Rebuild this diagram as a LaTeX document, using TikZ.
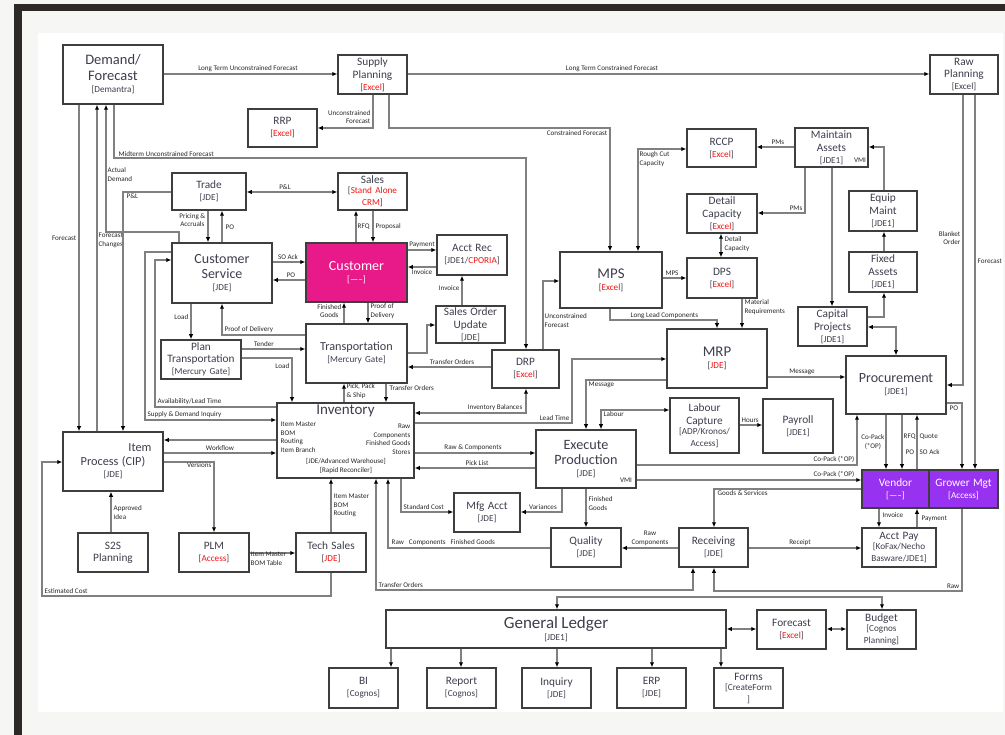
\documentclass[tikz,border=0pt]{standalone}
\usepackage{fontspec}
\setmainfont{Carlito}
\usetikzlibrary{arrows.meta}
\setlength\parindent{0pt}
\definecolor{boxc}{RGB}{62,62,62}
\definecolor{linec}{RGB}{128,128,128}
\definecolor{txtc}{RGB}{62,62,78}
\definecolor{lblc}{RGB}{40,40,40}
\definecolor{exred}{RGB}{240,20,20}
\definecolor{custpink}{RGB}{232,25,137}
\definecolor{vendpurple}{RGB}{150,50,240}
\definecolor{pagebg}{RGB}{246,246,244}
\definecolor{framec}{RGB}{45,41,38}
\newcommand\tA{\fontsize{11.3}{12.6}\selectfont}
\newcommand\tB{\fontsize{14.3}{15.6}\selectfont}
\newcommand\tC{\fontsize{12.2}{13.4}\selectfont}
\newcommand\sbt{\fontsize{9.2}{10}\selectfont}
\newcommand\lbf{\fontsize{7.1}{8.8}\selectfont}
\newcommand\rd[1]{\textcolor{exred}{#1}}
\newcommand\bx[7][]{\pgfmathsetmacro\bxw{(#5)-(#3)-4}\node[box,minimum width={(#5)-(#3)},minimum height={(#6)-(#4)},text width=\bxw pt,#1] (#2) at ({((#3)+(#5))/2},{((#4)+(#6))/2}) {#7};}
\tikzset{
 box/.style={draw=boxc, line width=1.5pt, fill=white, align=center, inner sep=1pt, text=txtc},
 conn/.style={draw=linec, line width=1.3pt},
 arr/.style={conn, -{Latex[length=5pt,width=4.5pt,color=black]}},
 darr/.style={conn, {Latex[length=5pt,width=4.5pt,color=black]}-{Latex[length=5pt,width=4.5pt,color=black]}},
 lb/.style={font=\lbf, text=lblc, inner sep=0.5pt},
}
\begin{document}
\begin{tikzpicture}[x=1pt,y=-1pt]
\useasboundingbox (0,0) rectangle (1005,735);
\fill[pagebg] (0,0) rectangle (1005,735);
\fill[framec] (14,4) rectangle (1010,740);
\fill[pagebg] (22,11) rectangle (1010,740);
\fill[white] (38,33) rectangle (1003,712);

% ---------- boxes ----------
\bx{dem}{63}{45}{163}{104}{\fontsize{14.5}{16}\selectfont Demand/\\Forecast\par\sbt[Demantra]}
\bx{sp}{338}{55}{407}{94}{\tA Supply\\Planning\par\sbt[\rd{Excel}]}
\bx{rp}{930}{55}{998}{94}{\tA Raw\\Planning\par\sbt[Excel]}
\bx{rrp}{248}{109}{317}{147}{\tA RRP\par\sbt[\rd{Excel}]}
\bx{rccp}{687}{129}{756}{167}{\tA RCCP\par\sbt[\rd{Excel}]}
\bx{ma}{795}{128}{868}{167}{\tA Maintain\\Assets\par\sbt[JDE1]}
\bx{trade}{172}{173}{246}{210}{\tA Trade\par\sbt[JDE]}
\bx{sales}{338}{173}{407}{210}{\tA Sales\par\sbt[\rd{Stand Alone}\\\rd{CRM}]}
\bx{dc}{687}{194}{757}{233}{\tA Detail\\Capacity\par\sbt[\rd{Excel}]}
\bx{em}{849}{191}{917}{231}{\tA Equip\\Maint\par\sbt[JDE1]}
\bx{cs}{172}{243}{272}{303}{\fontsize{14}{15.5}\selectfont Customer\\Service\par\sbt[JDE]}
\bx[fill=custpink,text=white]{cust}{306}{243}{407}{302}{\fontsize{14}{15.5}\selectfont Customer\par\sbt[-----]}
\bx{ar}{437}{235}{507}{275}{\tA Acct Rec\par\sbt[JDE1/\rd{CPORIA}]}
\bx{mps}{560}{252}{662}{308}{\fontsize{14.8}{16}\selectfont MPS\par\sbt[\rd{Excel}]}
\bx{dps}{687}{258}{757}{298}{\tA DPS\par\sbt[\rd{Excel}]}
\bx{fa}{849}{252}{917}{292}{\tA Fixed\\Assets\par\sbt[JDE1]}
\bx{cp}{798}{307}{867}{346}{\tA Capital\\Projects\par\sbt[JDE1]}
\bx{sou}{436}{306}{505}{343}{\tA Sales Order\\Update\par\sbt[JDE]}
\bx{pt}{161}{340}{241}{379}{\tA Plan\\Transportation\par\sbt[Mercury Gate]}
\bx{tr}{306}{324}{407}{383}{\tC Transportation\par\sbt[Mercury Gate]}
\bx{drp}{492}{350}{559}{388}{\tA DRP\par\sbt[\rd{Excel}]}
\bx{mrp}{667}{329}{767}{388}{\fontsize{14.8}{16}\selectfont MRP\par\sbt[\rd{JDE}]}
\bx{proc}{846}{356}{946}{414}{\fontsize{14}{15.5}\selectfont Procurement\par\sbt[JDE1]}
\bx{inv}{277}{403}{414}{478}{}
\bx{lc}{670}{398}{739}{453}{\tA Labour\\Capture\par\sbt[ADP/Kronos/\\Access]}
\bx{pay}{763}{399}{833}{453}{\tA Payroll\par\sbt[JDE1]}
\bx{ep}{536}{430}{636}{488}{\fontsize{14.2}{15.5}\selectfont Execute\\Production\par\sbt[JDE]}
\bx{ip}{63}{432}{163}{491}{\fontsize{12.3}{14}\selectfont\hspace*{54pt}Item\\Process (CIP)\par\sbt[JDE]}
\bx[fill=vendpurple,text=white]{vend}{862}{470}{929}{508}{\tA Vendor\par\sbt[-----]}
\bx[fill=vendpurple,text=white]{grow}{929}{470}{998}{508}{\tA Grower Mgt\par\sbt[Access]}
\bx{mfg}{454}{493}{520}{532}{\tA Mfg Acct\par\sbt[JDE]}
\bx{s2s}{78}{533}{148}{572}{\tA S2S\\Planning}
\bx{plm}{179}{533}{249}{572}{\tA PLM\par\sbt[\rd{Access}]}
\bx{ts}{296}{533}{366}{572}{\tA Tech Sales\par\sbt[\rd{JDE}]}
\bx{qual}{551}{528}{621}{567}{\tA Quality\par\sbt[JDE]}
\bx{recv}{679}{528}{748}{567}{\tA Receiving\par\sbt[JDE]}
\bx{ap}{862}{528}{936}{567}{\tA Acct Pay\par\sbt[KoFax/Necho\\Basware/JDE1]}
\bx{gl}{386}{610}{726}{648}{\fontsize{17}{18.5}\selectfont General Ledger\par\sbt[JDE1]}
\bx{fc}{757}{610}{826}{649}{\tA Forecast\par\sbt[\rd{Excel}]}
\bx{bud}{847}{610}{916}{649}{\tA Budget\par\sbt[Cognos\\Planning]}
\bx{bi}{329}{668}{398}{708}{\tA BI\par\sbt[Cognos]}
\bx{rep}{427}{668}{496}{708}{\tA Report\par\sbt[Cognos]}
\bx{inq}{522}{668}{591}{708}{\tA Inquiry\par\sbt[JDE]}
\bx{erp}{617}{668}{686}{708}{\tA ERP\par\sbt[JDE]}
\bx{forms}{714}{668}{783}{708}{\tA Forms\par\sbt[CreateForm\\{}]}

% inventory inner texts
\node[anchor=north,text=txtc,inner sep=0pt] (invt) at (345.5,405) {\fontsize{15}{16}\selectfont Inventory};
\node[lb,anchor=north west,align=left] (invl) at (280,421) {Item Master\\BOM\\Routing\\Item Branch};
\node[lb,anchor=north east,align=right] (invr) at (411,423) {Raw\\Components\\Finished Goods\\Stores};
\node[lb,anchor=north,align=center] (invb) at (346,458) {{[JDE/Advanced Warehouse]}\\{}{[Rapid Reconciler]}};

% ---------- connectors ----------
\draw[arr] (dem.east |- 0,74) -- (sp.west |- 0,74);
\node[lb,anchor=south] (l1) at (248,72) {Long Term Unconstrained Forecast};
\draw[arr] (sp.east |- 0,74) -- (rp.west |- 0,74);
\node[lb,anchor=south] (l2) at (612,72) {Long Term Constrained Forecast};
\draw[arr] (373,0 |- sp.south) -- (373,128) -- (rrp.east |- 0,128);
\node[lb,anchor=east,align=right] (l3) at (371,117) {Unconstrained\\Forecast};
\draw[arr] (389,0 |- sp.south) -- (389,128) -- (610,128) -- (610,0 |- mps.north);
\node[lb,anchor=north east] (l4) at (608,130) {Constrained Forecast};
\draw[arr] (114,0 |- dem.south) -- (114,158) -- (526,158) -- (526,0 |- drp.north);
\node[lb,anchor=south west] (l5) at (118,157) {Midterm Unconstrained Forecast};
\draw[arr] (79,0 |- dem.south) -- (79,0 |- ip.north);
\node[lb,anchor=east] (l6) at (77,238) {Forecast};
\draw[arr] (97,0 |- ip.north) -- (97,0 |- dem.south);
\node[lb,anchor=west,align=left] (l7) at (98,240) {Forecast\\Changes};
\draw[arr] (179,0 |- cs.north) -- (179,232) -- (106,232) -- (106,0 |- dem.south);
\node[lb,anchor=north west,align=left] (l8) at (107,167) {Actual\\Demand};
\draw[arr] (trade.west |- 0,192) -- (123,192) -- (123,0 |- ip.north);
\node[lb,anchor=north west] (l9) at (126,193) {P\&L};
\draw[darr] (trade.east |- 0,192) -- (sales.west |- 0,192);
\node[lb,anchor=south] (l10) at (285,190) {P\&L};
\draw[arr] (208,0 |- trade.south) -- (208,0 |- cs.north);
\node[lb,anchor=east,align=center] (l11) at (206,220) {Pricing \&\\Accruals};
\draw[arr] (222,0 |- cs.north) -- (222,0 |- trade.south);
\node[lb,anchor=west] (l12) at (225,227) {PO};
\draw[arr] (cs.east |- 0,262) -- (cust.west |- 0,262);
\node[lb,anchor=south] (l13) at (288,260) {SO Ack};
\draw[arr] (cust.west |- 0,280) -- (cs.east |- 0,280);
\node[lb,anchor=south] (l14) at (291,278) {PO};
\draw[arr] (356,0 |- cust.north) -- (356,0 |- sales.south);
\node[lb,anchor=west] (l15) at (357,227) {RFQ};
\draw[arr] (373,0 |- sales.south) -- (373,0 |- cust.north);
\node[lb,anchor=west] (l16) at (375,227) {Proposal};
\draw[arr] (cust.east |- 0,250) -- (ar.west |- 0,250);
\node[lb,anchor=south] (l17) at (422,248) {Payment};
\draw[arr] (ar.west |- 0,267) -- (cust.east |- 0,267);
\node[lb,anchor=north] (l18) at (422,269) {Invoice};
\draw[arr] (462,0 |- sou.north) -- (462,0 |- ar.south);
\node[lb,anchor=east] (l19) at (460,288) {Invoice};
\draw[arr] (tr.east |- 0,353) -- (427,353) -- (427,325) -- (sou.west |- 0,325);
\draw[arr] (drp.west |- 0,367) -- (tr.east |- 0,367);
\node[lb,anchor=south] (l21) at (452,365) {Transfer Orders};
\draw[arr] (344,0 |- tr.north) -- (344,0 |- cust.south);
\node[lb,anchor=east,align=center] (l22) at (342,311) {Finished\\Goods};
\draw[arr] (368,0 |- cust.south) -- (368,0 |- tr.north);
\node[lb,anchor=west,align=left] (l23) at (370,311) {Proof of\\Delivery};
\draw[arr] (tr.west |- 0,335) -- (222,335) -- (222,0 |- cs.south);
\node[lb,anchor=south west] (l24) at (224,333) {Proof of Delivery};
\draw[arr] (pt.east |- 0,349) -- (tr.west |- 0,349);
\node[lb,anchor=south] (l25) at (264,347) {Tender};
\draw[arr] (pt.east |- 0,358) -- (292,358) -- (292,0 |- inv.north);
\node[lb,anchor=east] (l26) at (290,366) {Load};
\draw[arr] (191,0 |- cs.south) -- (191,0 |- pt.north);
\node[lb,anchor=east] (l27) at (189,317) {Load};
\draw[arr] (inv.west |- 0,407) -- (155,407) -- (155,260) -- (cs.west |- 0,260);
\node[lb,anchor=south west] (l28) at (157,405) {Availability/Lead Time};
\draw[arr] (cs.west |- 0,252) -- (145,252) -- (145,420) -- (inv.west |- 0,420);
\node[lb,anchor=south west] (l29) at (147,418) {Supply \& Demand Inquiry};
\draw[arr] (344,0 |- inv.north) -- (344,0 |- tr.south);
\node[lb,anchor=west,align=left] (l30) at (346,391) {Pick, Pack\\\& Ship};
\draw[arr] (386,0 |- tr.south) -- (386,0 |- inv.north);
\node[lb,anchor=west] (l31) at (389,388) {Transfer Orders};
\draw[darr] (inv.east |- 0,413) -- (526,413) -- (526,0 |- drp.south);
\node[lb,anchor=south east] (l32) at (523,411) {Inventory Balances};
\draw[arr] (inv.east |- 0,423) -- (572,423) -- (572,359) -- (mrp.west |- 0,359);
\node[lb,anchor=south east] (l33) at (570,421) {Lead Time};
\draw[arr] (inv.east |- 0,453) -- (ep.west |- 0,453);
\node[lb,anchor=south] (l34) at (473,451) {Raw \& Components};
\draw[arr] (ep.west |- 0,468) -- (inv.east |- 0,468);
\node[lb,anchor=south] (l35) at (477,466) {Pick List};
\draw[arr] (mrp.west |- 0,380) -- (586,380) -- (586,0 |- ep.north);
\node[lb,anchor=north west] (l36) at (588,381) {Message};
\draw[darr] (601,0 |- ep.north) -- (601,410) -- (lc.west |- 0,410);
\node[lb,anchor=north west] (l37) at (603,411) {Labour};
\draw[arr] (lc.east |- 0,425) -- (pay.west |- 0,425);
\node[lb,anchor=south west] (l38) at (741,423) {Hours};
\draw[arr] (543,0 |- drp.north) -- (543,281) -- (mps.west |- 0,281);
\node[lb,anchor=north west,align=left] (l39) at (544,313) {Unconstrained\\Forecast};
\draw[arr] (mps.east |- 0,278) -- (dps.west |- 0,278);
\node[lb,anchor=south] (l40) at (672,276) {MPS};
\draw[arr] (742,0 |- dps.south) -- (742,0 |- mrp.north);
\node[lb,anchor=north west,align=left] (l41) at (744,299) {Material\\Requirements};
\draw[arr] (610,0 |- mps.south) -- (610,320) -- (717,320) -- (717,0 |- mrp.north);
\node[lb,anchor=south west] (l42) at (630,319) {Long Lead Components};
\draw[darr] (638,0 |- mps.north) -- (638,149) -- (rccp.west |- 0,149);
\node[lb,anchor=north west,align=left] (l43) at (639,151) {Rough Cut\\Capacity};
\draw[darr] (721,0 |- dc.south) -- (721,0 |- dps.north);
\node[lb,anchor=west,align=left] (l44) at (724,244) {Detail\\Capacity};
\draw[arr] (ma.west |- 0,147) -- (rccp.east |- 0,147);
\node[lb,anchor=south] (l45) at (778,145) {PMs};
\draw[arr] (805,0 |- ma.south) -- (805,213) -- (dc.east |- 0,213);
\node[lb,anchor=south east] (l46) at (803,211) {PMs};
\draw[arr] (884,0 |- em.north) -- (884,147) -- (ma.east |- 0,147);
\node[lb] (l47) at (860,160) {VMI};
\draw[arr] (884,0 |- fa.north) -- (884,0 |- em.south);
\draw[arr] (cp.east |- 0,317) -- (884,317) -- (884,0 |- fa.south);
\draw[darr] (cp.east |- 0,327) -- (896,327) -- (896,0 |- proc.north);
\draw[arr] (832,0 |- ma.south) -- (832,0 |- cp.north);
\draw[arr] (mrp.east |- 0,377) -- (proc.west |- 0,377);
\node[lb,anchor=south] (l52) at (802,375) {Message};
\draw[arr] (963,0 |- rp.south) -- (963,385) -- (proc.east |- 0,385);
\node[lb,anchor=east,align=right] (l53) at (961,238) {Blanket\\Order};
\draw[arr] (975,0 |- rp.south) -- (975,0 |- grow.north);
\node[lb,anchor=west] (l54) at (977,261) {Forecast};
\draw[arr] (proc.east |- 0,403) -- (962,403) -- (962,0 |- grow.north);
\node[lb,anchor=north west] (l55) at (949,405) {PO};
\draw[arr] (886,0 |- proc.south) -- (886,0 |- vend.north);
\node[lb,anchor=east,align=center] (l56) at (885,442) {Co-Pack\\(*OP)};
\draw[arr] (902,0 |- proc.south) -- (902,0 |- vend.north);
\node[lb,anchor=west] (l57a) at (903,437) {RFQ};
\node[lb,anchor=west] (l57b) at (905,452) {PO};
\draw[arr] (917,0 |- vend.north) -- (917,0 |- proc.south);
\node[lb,anchor=west] (l58a) at (919,437) {Quote};
\node[lb,anchor=west] (l58b) at (919,452) {SO Ack};
\draw[arr] (ep.east |- 0,465) -- (857,465) -- (857,0 |- proc.south);
\node[lb,anchor=south east] (l59) at (855,463) {Co-Pack (*OP)};
\draw[arr] (ep.east |- 0,480) -- (vend.west |- 0,480);
\node[lb,anchor=south east] (l60) at (855,478) {Co-Pack (*OP)};
\node[lb] (l60v) at (626,480) {VMI};
\draw[arr] (879,0 |- vend.south) -- (879,0 |- ap.north);
\node[lb,anchor=west] (l61) at (882,515) {Invoice};
\draw[arr] (917,0 |- ap.north) -- (917,0 |- vend.south);
\node[lb,anchor=west] (l62) at (921,519) {Payment};
\draw[arr] (recv.east |- 0,548) -- (ap.west |- 0,548);
\node[lb,anchor=south] (l63) at (800,546) {Receipt};
\draw[arr] (962,0 |- grow.south) -- (962,591) -- (714,591) -- (714,0 |- recv.south);
\node[lb,anchor=south east] (l64) at (960,589) {Raw};
\draw[arr] (vend.west |- 0,489) -- (714,489) -- (714,0 |- recv.north);
\node[lb,anchor=north west] (l65) at (717,490) {Goods \& Services};
\draw[arr] (recv.west |- 0,548) -- (qual.east |- 0,548);
\node[lb,anchor=south,align=center] (l66) at (650,546) {Raw\\Components};
\draw[arr] (586,0 |- ep.south) -- (586,0 |- qual.north);
\node[lb,anchor=north west,align=left] (l67) at (588,496) {Finished\\Goods};
\draw[arr] (562,0 |- ep.south) -- (562,512) -- (mfg.east |- 0,512);
\node[lb,anchor=south] (l68) at (543,510) {Variances};
\draw[arr] (401,0 |- inv.south) -- (401,512) -- (mfg.west |- 0,512);
\node[lb,anchor=south west] (l69) at (403,510) {Standard Cost};
\draw[arr] (qual.west |- 0,548) -- (388,548) -- (388,0 |- inv.south);
\node[lb,anchor=south west] (l70) at (391,546) {Raw\hspace{5pt}Components\hspace{5pt}Finished Goods};
\draw[darr] (376,0 |- inv.south) -- (376,590) -- (693,590) -- (693,0 |- recv.south);
\node[lb,anchor=south west] (l71) at (378,588) {Transfer Orders};
\draw[darr] (557,0 |- gl.north) -- (557,597) -- (882,597) -- (882,0 |- bud.north);
\draw[darr] (gl.east |- 0,629) -- (fc.west |- 0,629);
\draw[darr] (fc.east |- 0,629) -- (bud.west |- 0,629);
\foreach \n/\x in {bi/391,rep/461,inq/557,erp/652,forms/721}
  \draw[arr] (\x,0 |- gl.south) -- (\x,0 |- \n.north);
\draw[arr] (331,0 |- ts.north) -- (331,0 |- inv.south);
\node[lb,anchor=north west,align=left] (l76) at (333,493) {Item Master\\BOM\\Routing};
\draw[arr] (plm.east |- 0,553) -- (ts.west |- 0,553);
\node[lb,anchor=north west,align=left] (l77) at (250,551) {Item Master\\BOM Table};
\draw[arr] (ip.east |- 0,462) -- (214,462) -- (214,0 |- plm.north);
\node[lb,anchor=north east] (l78) at (212,462) {Versions};
\draw[arr] (111,0 |- s2s.north) -- (111,0 |- ip.south);
\node[lb,anchor=north west,align=left] (l79) at (113,505) {Approved\\Idea};
\draw[arr] (331,0 |- ts.south) -- (331,596) -- (42,596) -- (42,462) -- (ip.west |- 0,462);
\node[lb,anchor=south west] (l80) at (44,594) {Estimated Cost};
\draw[arr] (inv.west |- 0,440) -- (ip.east |- 0,440);
\draw[arr] (ip.east |- 0,453) -- (inv.west |- 0,453);
\node[lb,anchor=south] (l82) at (220,451) {Workflow};
\end{tikzpicture}
\end{document}
